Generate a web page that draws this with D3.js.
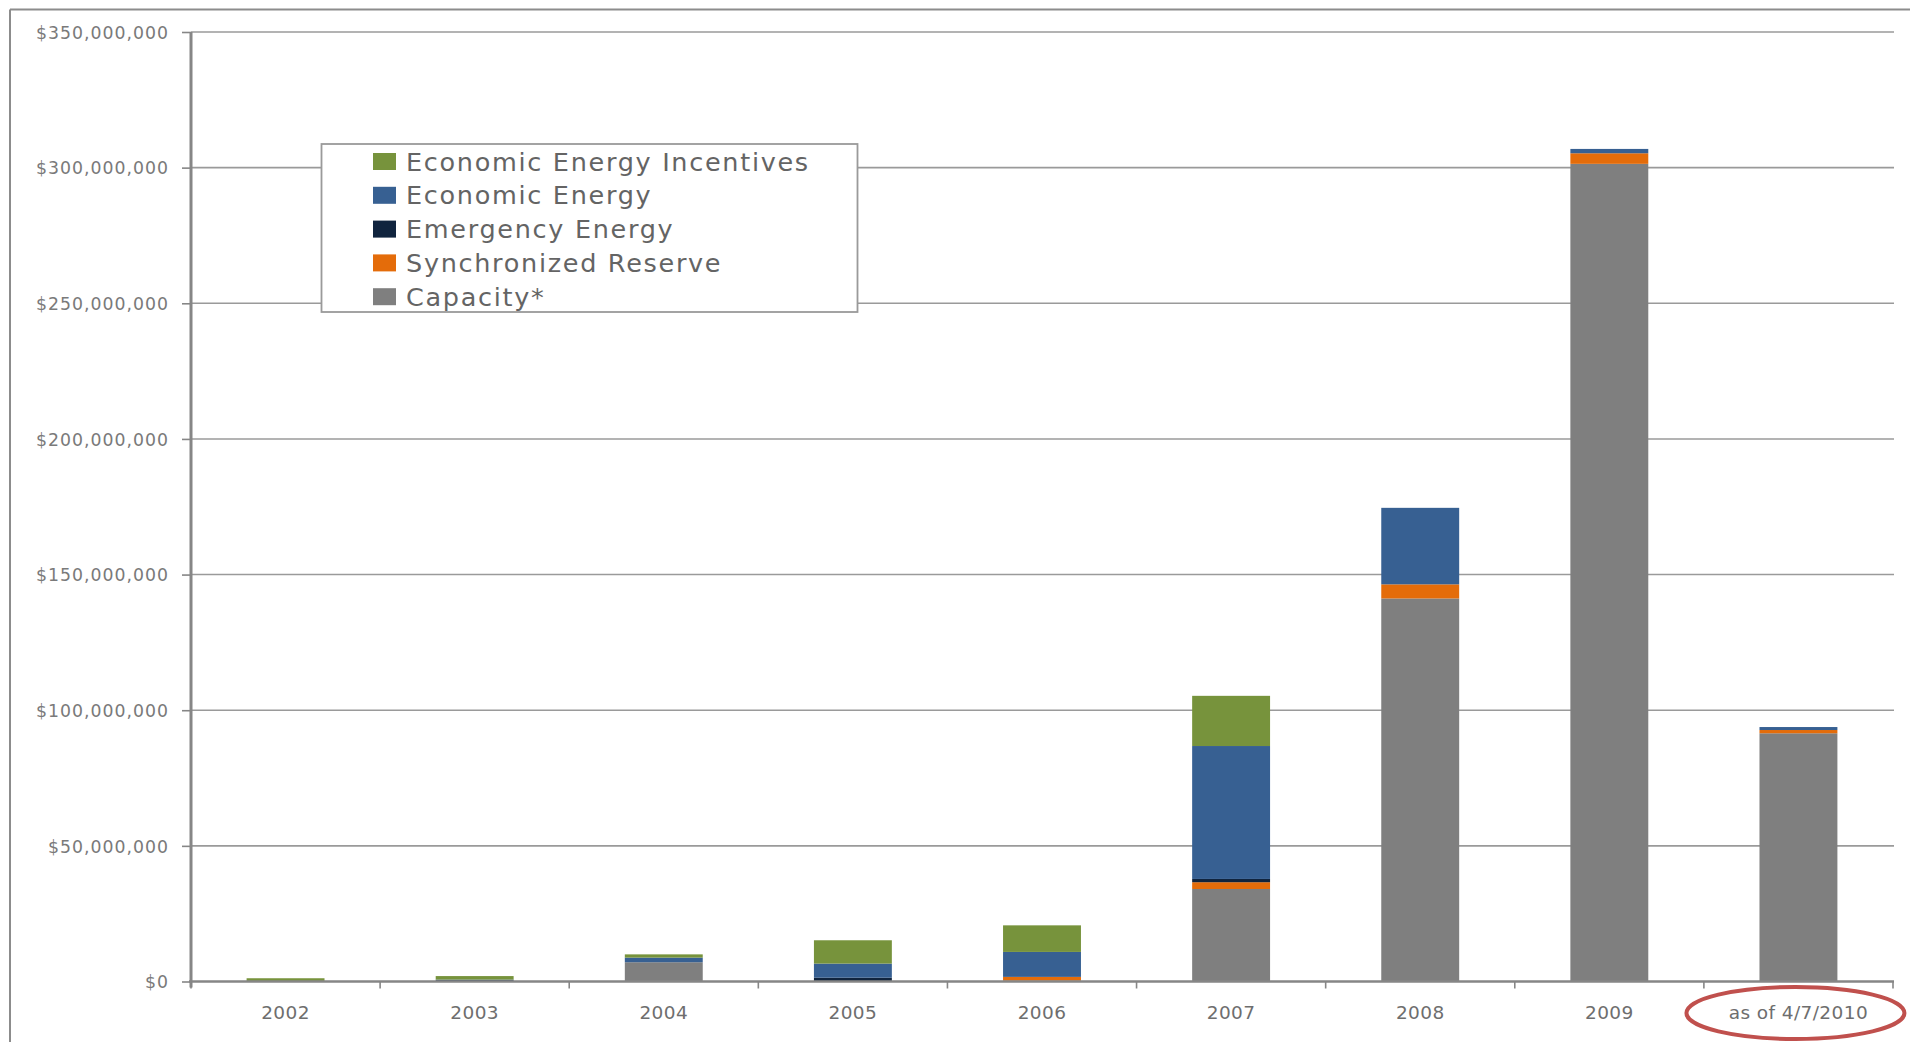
<!DOCTYPE html>
<html>
<head>
<meta charset="utf-8">
<script src="https://cdn.jsdelivr.net/npm/d3@7"></script>
<style>
  html, body { margin: 0; padding: 0; background: #ffffff; }
  svg { display: block; }
</style>
</head>
<body>
<svg id="chart" width="1910" height="1042"></svg>
<script>
// ---------- DATA ----------
const categories = ["2002", "2003", "2004", "2005", "2006", "2007", "2008", "2009", "as of 4/7/2010"];
// values in millions of US dollars
const capacity          = [0,   0,   7.1, 0,   0.3, 34.1, 141.2, 301.4, 91.5];
const synchronizedRes   = [0,   0,   0,   0,   1.4, 2.5,  5.2,   3.9,   1.2];
const emergencyEnergy   = [0,   0.5, 0,   1.4, 0,   1.2,  0,     0,     0];
const economicEnergy    = [0,   0.2, 1.7, 5.2, 9.2, 49.0, 28.2,  1.6,   1.1];
const economicIncentive = [1.2, 1.3, 1.2, 8.6, 9.8, 18.5, 0,     0,     0];
const yTicks = [0, 50e6, 100e6, 150e6, 200e6, 250e6, 300e6, 350e6];

const seriesNames = ["Capacity*", "Synchronized Reserve", "Emergency Energy", "Economic Energy", "Economic Energy Incentives"];
const seriesValues = [capacity, synchronizedRes, emergencyEnergy, economicEnergy, economicIncentive];
const seriesColors = ["#7f7f7f", "#e46c0a", "#10243e", "#376092", "#77933c"];
const legendOrder = ["Economic Energy Incentives", "Economic Energy", "Emergency Energy", "Synchronized Reserve", "Capacity*"];

// ---------- BUILD TABLE ----------
const table = categories.map((c, i) => {
  const row = { cat: c };
  seriesNames.forEach((s, k) => row[s] = seriesValues[k][i] * 1e6);
  return row;
});
const stacked = d3.stack().keys(seriesNames)(table);

// ---------- LAYOUT ----------
const svg = d3.select("#chart");
const x0 = 191, x1 = 1893, yBottom = 981.5, yTop = 32;
const gridRight = 1894;

const x = d3.scaleBand().domain(categories).range([x0, x1]).paddingInner(0.588).paddingOuter(0.294);
const y = d3.scaleLinear().domain([0, 350e6]).range([yBottom, yTop]);
const color = d3.scaleOrdinal().domain(seriesNames).range(seriesColors);

// outer frame (slide border)
svg.append("line").attr("x1", 10).attr("x2", 1910).attr("y1", 9.5).attr("y2", 9.5)
  .attr("stroke", "#8c8c8c").attr("stroke-width", 2);
svg.append("line").attr("x1", 10).attr("x2", 10).attr("y1", 9.5).attr("y2", 1042)
  .attr("stroke", "#8c8c8c").attr("stroke-width", 2);

// gridlines
svg.append("g").selectAll("line").data(yTicks.filter(d => d > 0)).join("line")
  .attr("x1", x0).attr("x2", gridRight)
  .attr("y1", d => y(d)).attr("y2", d => y(d))
  .attr("stroke", "#9a9a9a").attr("stroke-width", 1.6);

// bars
svg.append("g").selectAll("g").data(stacked).join("g")
  .attr("fill", d => color(d.key))
  .selectAll("rect").data(d => d).join("rect")
  .attr("x", d => x(d.data.cat))
  .attr("width", x.bandwidth())
  .attr("y", d => y(d[1]))
  .attr("height", d => Math.max(0, y(d[0]) - y(d[1])));

// y axis
const yAxis = d3.axisLeft(y).tickValues(yTicks).tickSize(9).tickPadding(13)
  .tickFormat(d => "$" + d3.format(",")(d));
const gy = svg.append("g").attr("transform", `translate(${x0},0)`).call(yAxis);
gy.select(".domain").attr("stroke", "#868686").attr("stroke-width", 3)
  .attr("d", `M0,${yTop}V${yBottom + 6}`);
gy.selectAll(".tick line").attr("stroke", "#868686").attr("stroke-width", 1.6);
gy.selectAll(".tick text")
  .attr("fill", "#7a7a7a")
  .style("font-family", "'DejaVu Sans', sans-serif")
  .style("font-size", "17.3px")
  .style("letter-spacing", "1px")
  .attr("dy", "0.36em");

// x axis
const step = x.step();
const boundaries = categories.map(c => x(c) - (step - x.bandwidth()) / 2);
boundaries.push(boundaries[boundaries.length - 1] + step);
svg.append("line").attr("x1", x0 - 2).attr("x2", gridRight).attr("y1", yBottom).attr("y2", yBottom)
  .attr("stroke", "#868686").attr("stroke-width", 2.4);
svg.append("g").selectAll("line").data(boundaries).join("line")
  .attr("x1", d => d).attr("x2", d => d)
  .attr("y1", yBottom).attr("y2", yBottom + 7)
  .attr("stroke", "#868686").attr("stroke-width", 1.6);
svg.append("g").selectAll("text").data(categories).join("text")
  .attr("x", d => x(d) + x.bandwidth() / 2)
  .attr("y", 1019)
  .attr("text-anchor", "middle")
  .attr("fill", "#6e6e6e")
  .style("font-family", "'DejaVu Sans', sans-serif")
  .style("font-size", "18.5px")
  .style("letter-spacing", "0.4px")
  .text(d => d);

// red ellipse around last label
const lastCat = categories[categories.length - 1];
svg.append("ellipse")
  .attr("cx", x(lastCat) + x.bandwidth() / 2 - 3)
  .attr("cy", 1013)
  .attr("rx", 109).attr("ry", 26)
  .attr("fill", "none").attr("stroke", "#c0504d").attr("stroke-width", 4);

// legend
const lg = svg.append("g");
lg.append("rect").attr("x", 321.5).attr("y", 144).attr("width", 536).attr("height", 168)
  .attr("fill", "#ffffff").attr("stroke", "#9a9a9a").attr("stroke-width", 1.8);
const rows = lg.selectAll("g.row").data(legendOrder).join("g")
  .attr("class", "row")
  .attr("transform", (d, i) => `translate(373,${161.5 + i * 33.8})`);
rows.append("rect").attr("x", 0).attr("y", -8.5).attr("width", 23).attr("height", 17)
  .attr("fill", d => color(d));
rows.append("text").attr("x", 33).attr("y", 9)
  .attr("fill", "#646464")
  .style("font-family", "'DejaVu Sans', sans-serif")
  .style("font-size", "25.5px")
  .style("letter-spacing", "1.7px")
  .text(d => d);
</script>
</body>
</html>
